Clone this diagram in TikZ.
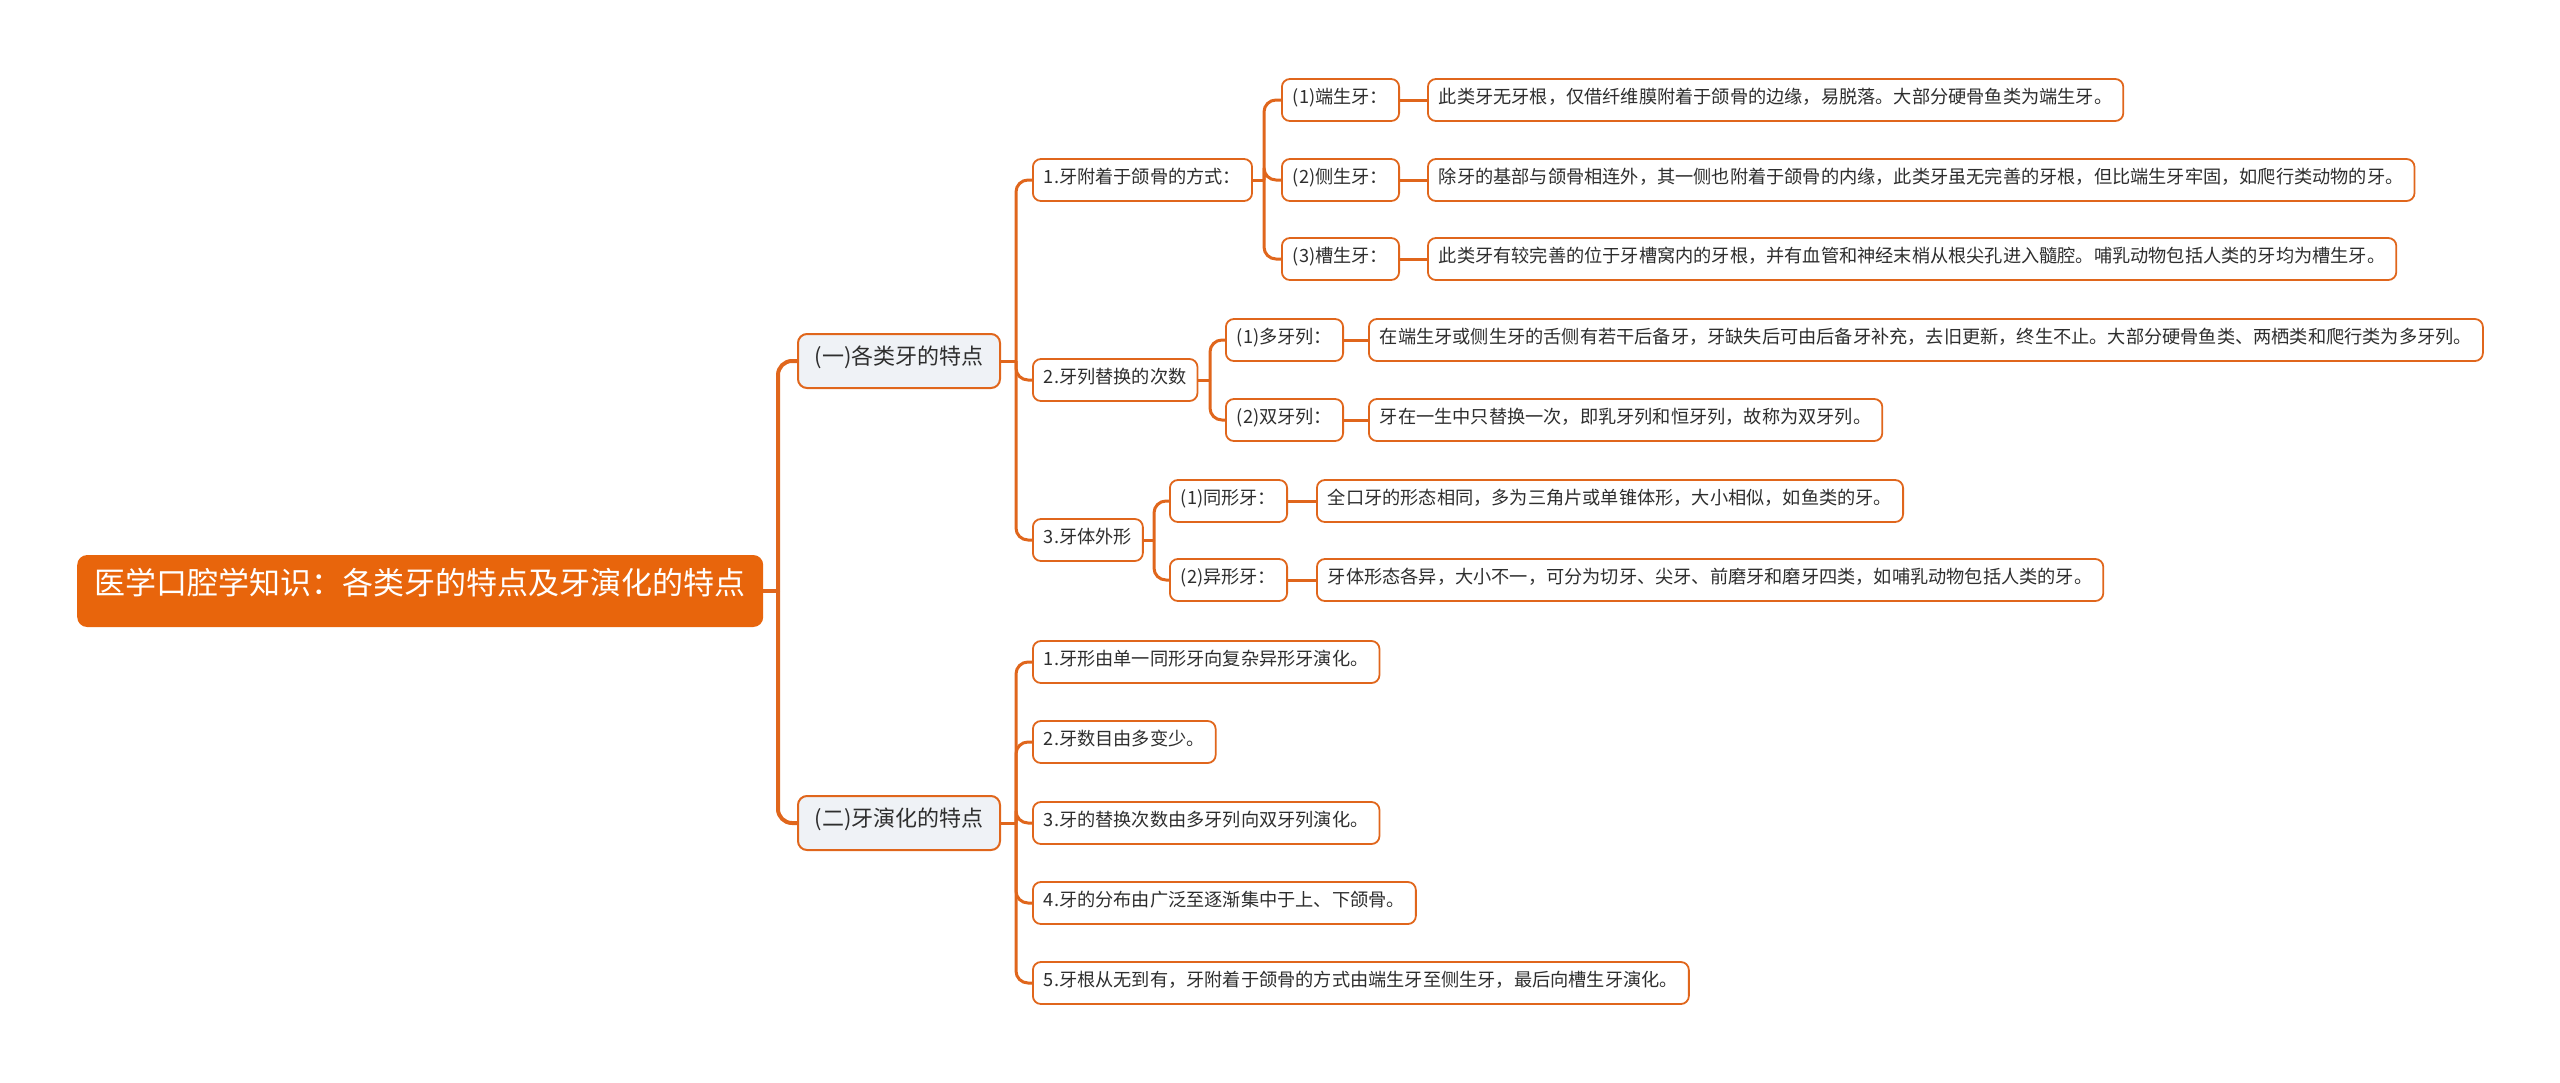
\documentclass[tikz,border=0pt]{standalone}
\usepackage{fontspec}
\setmainfont{Noto Sans CJK SC}
\definecolor{rootor}{HTML}{E8650C}
\definecolor{lineor}{HTML}{E0661C}
\definecolor{l1fill}{HTML}{EFF2F6}
\definecolor{txt}{HTML}{2E2E2E}
\begin{document}
\begin{tikzpicture}[x=1pt,y=-1pt,
  rootbox/.style={fill=rootor, rounded corners=10pt, text=white,
    font=\fontsize{31pt}{36pt}\selectfont, minimum height=72pt, minimum width=686pt,
    inner xsep=16pt, inner ysep=0pt, anchor=west, text height=0.86em, text depth=0.14em},
  lonebox/.style={draw=lineor, line width=2pt, fill=l1fill, rounded corners=9pt, text=txt,
    font=\fontsize{22pt}{26pt}\selectfont, minimum height=54pt, minimum width=202pt,
    inner xsep=13pt, inner ysep=0pt, anchor=west, text height=0.86em, text depth=0.14em},
  itembox/.style={draw=lineor, line width=1.8pt, fill=white, rounded corners=8pt, text=txt,
    font=\fontsize{18.2pt}{22pt}\selectfont, minimum height=42pt,
    inner xsep=11pt, inner ysep=0pt, anchor=west, text height=0.86em, text depth=0.14em},
  connroot/.style={draw=lineor, line width=4pt, rounded corners=14pt},
  conn/.style={draw=lineor, line width=3pt, rounded corners=12pt},
]
\useasboundingbox (0,0) rectangle (2560,1082);

% root
\node[rootbox] (root) at (77,591) {医学口腔学知识：各类牙的特点及牙演化的特点};

% level 1
\node[lonebox] (la) at (797,361) {(一)各类牙的特点};
\node[lonebox] (lb) at (797,823) {(二)牙演化的特点};

% level 2 under (一)
\node[itembox] (a1) at (1032,180) {1.牙附着于颌骨的方式：};
\node[itembox] (a2) at (1032,380) {2.牙列替换的次数};
\node[itembox] (a3) at (1032,540) {3.牙体外形};

% level 3 under 1.
\node[itembox, minimum width=113pt] (a11) at (1281,100) {(1)端生牙：};
\node[itembox, minimum width=113pt] (a12) at (1281,180) {(2)侧生牙：};
\node[itembox, minimum width=113pt] (a13) at (1281,259) {(3)槽生牙：};
\node[itembox] (d11) at (1427,100) {此类牙无牙根，仅借纤维膜附着于颌骨的边缘，易脱落。大部分硬骨鱼类为端生牙。};
\node[itembox] (d12) at (1427,180) {除牙的基部与颌骨相连外，其一侧也附着于颌骨的内缘，此类牙虽无完善的牙根，但比端生牙牢固，如爬行类动物的牙。};
\node[itembox] (d13) at (1427,259) {此类牙有较完善的位于牙槽窝内的牙根，并有血管和神经末梢从根尖孔进入髓腔。哺乳动物包括人类的牙均为槽生牙。};

% level 3 under 2.
\node[itembox, minimum width=114pt] (a21) at (1225,340) {(1)多牙列：};
\node[itembox, minimum width=114pt] (a22) at (1225,420) {(2)双牙列：};
\node[itembox] (d21) at (1368,340) {在端生牙或侧生牙的舌侧有若干后备牙，牙缺失后可由后备牙补充，去旧更新，终生不止。大部分硬骨鱼类、两栖类和爬行类为多牙列。};
\node[itembox] (d22) at (1368,420) {牙在一生中只替换一次，即乳牙列和恒牙列，故称为双牙列。};

% level 3 under 3.
\node[itembox, minimum width=116pt] (a31) at (1169,501) {(1)同形牙：};
\node[itembox, minimum width=116pt] (a32) at (1169,580) {(2)异形牙：};
\node[itembox] (d31) at (1316,501) {全口牙的形态相同，多为三角片或单锥体形，大小相似，如鱼类的牙。};
\node[itembox] (d32) at (1316,580) {牙体形态各异，大小不一，可分为切牙、尖牙、前磨牙和磨牙四类，如哺乳动物包括人类的牙。};

% level 2 under (二)
\node[itembox] (b1) at (1032,662) {1.牙形由单一同形牙向复杂异形牙演化。};
\node[itembox] (b2) at (1032,742) {2.牙数目由多变少。};
\node[itembox] (b3) at (1032,823) {3.牙的替换次数由多牙列向双牙列演化。};
\node[itembox] (b4) at (1032,903) {4.牙的分布由广泛至逐渐集中于上、下颌骨。};
\node[itembox] (b5) at (1032,983) {5.牙根从无到有，牙附着于颌骨的方式由端生牙至侧生牙，最后向槽生牙演化。};

% trunk x positions
\coordinate (t0) at (778,0);
\coordinate (t1) at (1016,0);
\coordinate (t11) at (1264,0);
\coordinate (t12) at (1210,0);
\coordinate (t13) at (1154,0);

% connectors root
\draw[connroot] (root.east) -- (root.east -| t0);
\draw[connroot] (root.east -| t0) |- (la.west);
\draw[connroot] (root.east -| t0) |- (lb.west);

% connectors (一)
\draw[conn] (la.east) -- (la.east -| t1);
\foreach \c in {a1,a2,a3} \draw[conn] (la.east -| t1) |- (\c.west);

% connectors (二)
\draw[conn] (lb.east) -- (lb.east -| t1);
\foreach \c in {b1,b2,b3,b4,b5} \draw[conn] (lb.east -| t1) |- (\c.west);

% connectors 1.
\draw[conn] (a1.east) -- (a1.east -| t11);
\foreach \c in {a11,a12,a13} \draw[conn] (a1.east -| t11) |- (\c.west);
\draw[conn] (a11.east) -- (d11.west);
\draw[conn] (a12.east) -- (d12.west);
\draw[conn] (a13.east) -- (d13.west);

% connectors 2.
\draw[conn] (a2.east) -- (a2.east -| t12);
\foreach \c in {a21,a22} \draw[conn] (a2.east -| t12) |- (\c.west);
\draw[conn] (a21.east) -- (d21.west);
\draw[conn] (a22.east) -- (d22.west);

% connectors 3.
\draw[conn] (a3.east) -- (a3.east -| t13);
\foreach \c in {a31,a32} \draw[conn] (a3.east -| t13) |- (\c.west);
\draw[conn] (a31.east) -- (d31.west);
\draw[conn] (a32.east) -- (d32.west);
\end{tikzpicture}
\end{document}
